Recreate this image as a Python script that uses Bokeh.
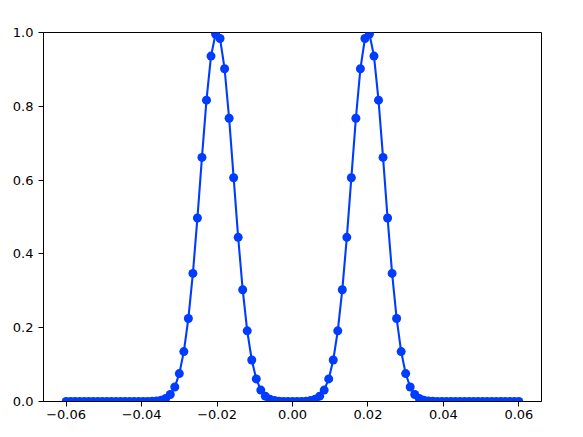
from bokeh.plotting import figure
from bokeh.models import FixedTicker, Range1d
from bokeh.embed import file_html
from bokeh.resources import INLINE

# ---- data ----
x_values = [
    -0.0600, -0.0588, -0.0576, -0.0564, -0.0552, -0.0540, -0.0528, -0.0516, -0.0504, -0.0492,
    -0.0480, -0.0468, -0.0456, -0.0444, -0.0432, -0.0420, -0.0408, -0.0396, -0.0384, -0.0372,
    -0.0360, -0.0348, -0.0336, -0.0324, -0.0312, -0.0300, -0.0288, -0.0276, -0.0264, -0.0252,
    -0.0240, -0.0228, -0.0216, -0.0204, -0.0192, -0.0180, -0.0168, -0.0156, -0.0144, -0.0132,
    -0.0120, -0.0108, -0.0096, -0.0084, -0.0072, -0.0060, -0.0048, -0.0036, -0.0024, -0.0012,
    0.0000,
    0.0012, 0.0024, 0.0036, 0.0048, 0.0060, 0.0072, 0.0084, 0.0096, 0.0108, 0.0120,
    0.0132, 0.0144, 0.0156, 0.0168, 0.0180, 0.0192, 0.0204, 0.0216, 0.0228, 0.0240,
    0.0252, 0.0264, 0.0276, 0.0288, 0.0300, 0.0312, 0.0324, 0.0336, 0.0348, 0.0360,
    0.0372, 0.0384, 0.0396, 0.0408, 0.0420, 0.0432, 0.0444, 0.0456, 0.0468, 0.0480,
    0.0492, 0.0504, 0.0516, 0.0528, 0.0540, 0.0552, 0.0564, 0.0576, 0.0588, 0.0600,
]

y_values = [
    0.0, 0.0, 0.0, 0.0, 0.0, 0.0, 0.0, 0.0, 0.0, 0.0,
    0.0, 0.0, 0.0, 0.0, 0.0, 0.0, 0.0, 0.0001, 0.0002, 0.0005,
    0.0013, 0.0035, 0.0084, 0.0189, 0.0392, 0.0756, 0.1353, 0.2250, 0.3472, 0.4974,
    0.6615, 0.8167, 0.9360, 0.9959, 0.9836, 0.9019, 0.7676, 0.6065, 0.4449, 0.3029,
    0.1915, 0.1124, 0.0612, 0.0310, 0.0145, 0.0063, 0.0026, 0.0010, 0.0003, 0.0001,
    0.0001,
    0.0001, 0.0003, 0.0010, 0.0026, 0.0063, 0.0145, 0.0310, 0.0612, 0.1124, 0.1915,
    0.3029, 0.4449, 0.6065, 0.7676, 0.9019, 0.9836, 0.9959, 0.9360, 0.8167, 0.6615,
    0.4974, 0.3472, 0.2250, 0.1353, 0.0756, 0.0392, 0.0189, 0.0084, 0.0035, 0.0013,
    0.0005, 0.0002, 0.0001, 0.0, 0.0, 0.0, 0.0, 0.0, 0.0, 0.0,
    0.0, 0.0, 0.0, 0.0, 0.0, 0.0, 0.0, 0.0, 0.0, 0.0,
]

x_ticks = [-0.06, -0.04, -0.02, 0.0, 0.02, 0.04, 0.06]
x_tick_labels = ["\u22120.06", "\u22120.04", "\u22120.02", "0.00", "0.02", "0.04", "0.06"]
y_ticks = [0.0, 0.2, 0.4, 0.6, 0.8, 1.0]
y_tick_labels = ["0.0", "0.2", "0.4", "0.6", "0.8", "1.0"]

LINE_COLOR = "#003cff"
FONT = "DejaVu Sans"

p = figure(
    width=567, height=421,
    output_backend="svg", toolbar_location=None,
    x_range=Range1d(-0.066, 0.066), y_range=Range1d(0.0, 1.0),
    min_border_left=43, min_border_right=26, min_border_top=32, min_border_bottom=20,
)
p.background_fill_color = "white"
p.border_fill_color = "white"
p.outline_line_color = "black"
p.outline_line_width = 1
p.xgrid.visible = False
p.ygrid.visible = False

p.line(x_values, y_values, line_color=LINE_COLOR, line_width=2.1)
p.scatter(x_values, y_values, size=9, fill_color=LINE_COLOR, line_color=LINE_COLOR, line_width=0)

for ax, ticks, labels in ((p.xaxis[0], x_ticks, x_tick_labels), (p.yaxis[0], y_ticks, y_tick_labels)):
    ax.ticker = FixedTicker(ticks=ticks)
    ax.major_label_overrides = {t: l for t, l in zip(ticks, labels)}
    ax.axis_line_color = "black"
    ax.axis_line_width = 1
    ax.major_tick_line_color = "black"
    ax.major_tick_line_width = 1
    ax.major_tick_out = 5
    ax.major_tick_in = 0
    ax.minor_tick_line_color = None
    ax.major_label_text_font = FONT
    ax.major_label_text_font_size = "13px"
    ax.major_label_text_color = "black"
    ax.major_label_standoff = 5

p.xaxis[0].major_label_standoff = 3

open("out.html", "w").write(file_html(p, INLINE))
